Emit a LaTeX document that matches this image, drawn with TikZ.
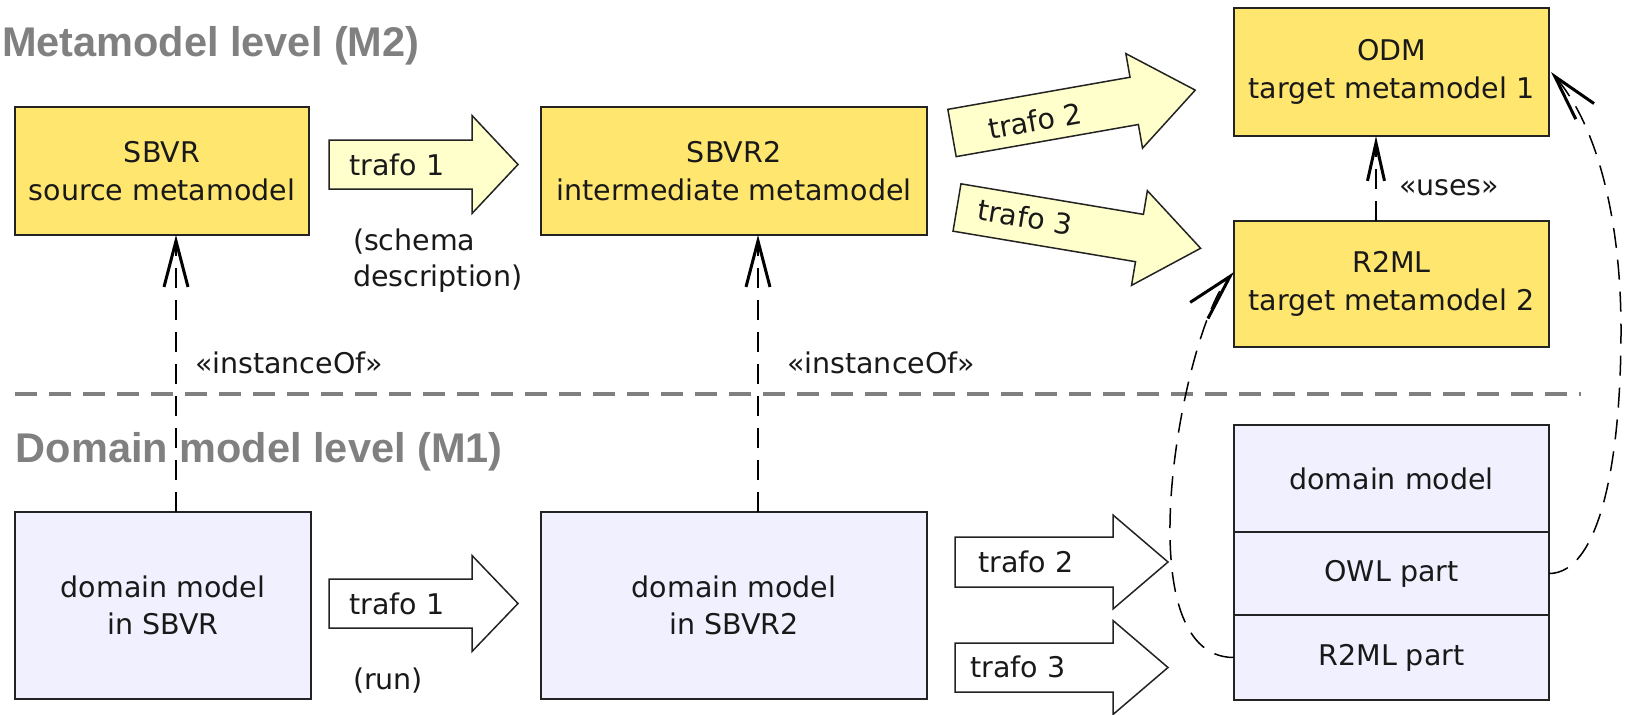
\documentclass[tikz,border=0pt]{standalone}
\usepackage{fontspec}
\newfontfamily\bodyf{DejaVu Sans}
\newfontfamily\titlef{Liberation Sans}
\usetikzlibrary{arrows.meta}
\definecolor{boxyel}{RGB}{255,230,110}
\definecolor{arrowyel}{RGB}{255,255,204}
\definecolor{boxlav}{RGB}{240,240,255}
\definecolor{titlegray}{RGB}{128,128,128}
\definecolor{edgecol}{RGB}{35,35,35}
% #1 x, #2 y (centre of tail), #3 angle, #4 shaft length, #5 total length, #6 shaft half width, #7 head half width, #8 fill
\newcommand{\fatarrow}[8]{%
  \draw[arrowline, fill=#8, shift={(#1,#2)}, rotate=#3]
    (0,-#6) -- (#4,-#6) -- (#4,-#7) -- (#5,0) -- (#4,#7) -- (#4,#6) -- (0,#6) -- cycle;}
\begin{document}
\begin{tikzpicture}[x=1pt,y=-1pt,
  every node/.style={inner sep=0pt, outer sep=0pt},
  bodytext/.style={font=\bodyf\fontsize{28.5}{37.5}\selectfont, text=black!90},
  titletext/.style={font=\titlef\bfseries\fontsize{41.5}{48}\selectfont, text=titlegray, anchor=base west},
  mbox/.style={bodytext, draw=edgecol, line width=2pt, align=center},
  ybox/.style={mbox, fill=boxyel},
  lbox/.style={mbox, fill=boxlav},
  arrowline/.style={draw=edgecol, line width=1.5pt, line join=miter},
  depline/.style={draw=black, line width=1.5pt, dash pattern=on 20pt off 12pt},
  opentip/.style={-{Straight Barb[length=46pt,width=24pt,line width=3pt]}},
  usestip/.style={-{Straight Barb[length=38pt,width=17pt,line width=3pt]}},
  sepline/.style={draw=titlegray, line width=3.5pt, dash pattern=on 22pt off 12pt},
  labeltext/.style={bodytext, anchor=base west}
]
\useasboundingbox (0,0) rectangle (1626,715);

% titles
\node[titletext] (m2title) at (2,56) {Metamodel level (M2)};
\node[titletext] (m1title) at (16,462) {Domain model level (M1)};

% level separator
\draw[sepline] (15,394) -- (1581,394);

% metamodel boxes
\node[ybox, minimum width=294pt, minimum height=128pt] (sbvr) at (162,171) {SBVR\\source metamodel};
\node[ybox, minimum width=386pt, minimum height=128pt] (sbvr2) at (734,171) {SBVR2\\intermediate metamodel};
\node[ybox, minimum width=315pt, minimum height=128pt] (odm) at (1391.5,72) {ODM\\target metamodel 1};
\node[ybox, minimum width=315pt, minimum height=126pt] (r2ml) at (1391.5,284) {R2ML\\target metamodel 2};

% domain model boxes
\node[lbox, minimum width=296pt, minimum height=187pt] (dmsbvr) at (163,605.5) {domain model\\in SBVR};
\node[lbox, minimum width=386pt, minimum height=187pt] (dmsbvr2) at (734,605.5) {domain model\\in SBVR2};
\node[lbox, minimum width=315pt, minimum height=107pt] (stdm) at (1391.5,478.5) {domain model};
\node[lbox, minimum width=315pt, minimum height=83pt] (owlpart) at (1391.5,573.5) {OWL part};
\node[lbox, minimum width=315pt, minimum height=85pt] (r2mlpart) at (1391.5,657.5) {R2ML part};

% transformation arrows
\fatarrow{329}{164.5}{0}{143}{189}{24.5}{49}{arrowyel}
\fatarrow{952}{133}{10}{185}{247}{24}{48}{arrowyel}
\fatarrow{957}{207.5}{-9.5}{185}{247}{24}{48}{arrowyel}
\fatarrow{329}{603.5}{0}{143}{189}{24.5}{48}{white}
\fatarrow{955}{562}{0}{158}{213}{25}{47}{white}
\fatarrow{955}{667.5}{0}{158}{213}{24.5}{47}{white}

\node[bodytext] (t1a) at (397,164.5) {trafo 1};
\node[bodytext, rotate=10] (t2a) at (1035,121) {trafo 2};
\node[bodytext, rotate=-9.5] (t3a) at (1025,217) {trafo 3};
\node[bodytext] (t1b) at (397,604) {trafo 1};
\node[bodytext] (t2b) at (1026,562) {trafo 2};
\node[bodytext] (t3b) at (1018,667) {trafo 3};

% labels
\node[labeltext] (sch1) at (353,250) {(schema};
\node[labeltext] (sch2) at (353,286) {description)};
\node[labeltext] (run) at (353,689) {(run)};
\node[labeltext] (inst1) at (195,373) {«instanceOf»};
\node[labeltext] (inst2) at (787,373) {«instanceOf»};
\node[labeltext] (uses) at (1399,195) {«uses»};

% dependencies
\draw[depline, opentip] ([xshift=13pt]dmsbvr.north) -- ([xshift=13pt]dmsbvr.north |- sbvr.south);
\draw[depline, opentip] ([xshift=24pt]dmsbvr2.north) -- ([xshift=24pt]dmsbvr2.north |- sbvr2.south);
\draw[depline, usestip] ([xshift=-15.5pt]r2ml.north) -- ([xshift=-15.5pt]r2ml.north |- odm.south);
\draw[depline, opentip] (r2mlpart.west) .. controls +(-114,0) and +(-50,55) .. ([yshift=12pt]r2ml.west);
\coordinate (rmid) at (1621,330);
\draw[depline, opentip] (owlpart.east) .. controls +(50,0) and +(0,134) .. (rmid)
  .. controls +(0,-110) and +(46.5,54) .. ([xshift=2pt]odm.east);
\end{tikzpicture}
\end{document}
